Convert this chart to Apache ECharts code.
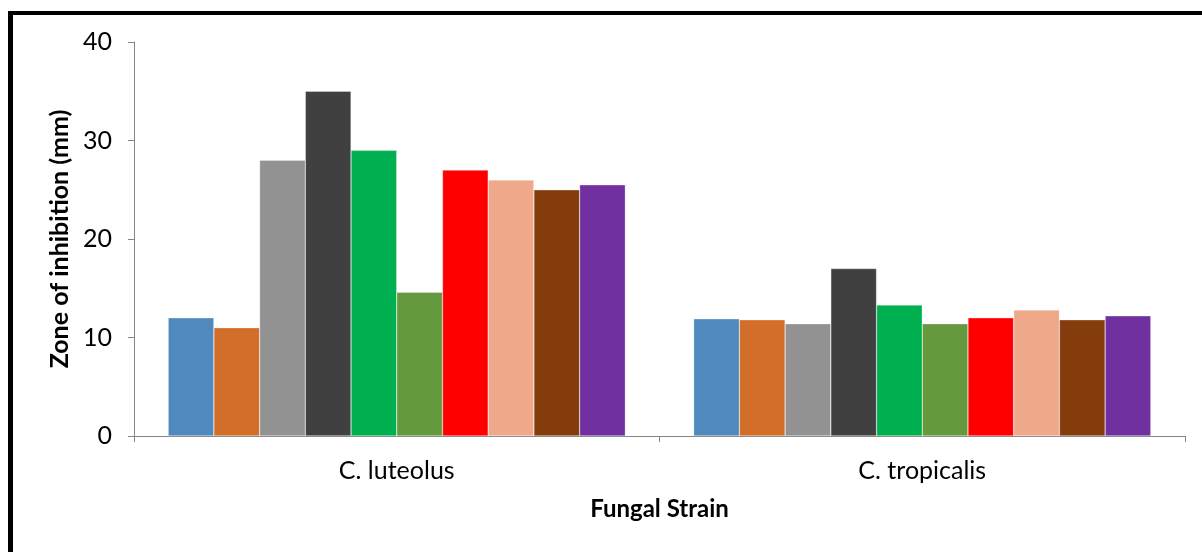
<!DOCTYPE html>
<html>
<head>
<meta charset="utf-8">
<script src="https://cdn.jsdelivr.net/npm/echarts@6/dist/echarts.min.js"></script>
<style>
  html, body { margin: 0; padding: 0; background: #fff; }
  #chart { width: 1202px; height: 552px; }
</style>
</head>
<body>
<div id="chart"></div>
<script>
// Fungal strains on the category axis
const strains = ['C. luteolus', 'C. tropicalis'];

// Zone of inhibition (mm) per treatment, one array per bar colour
const treatment1 = [12.0, 11.9];
const treatment2 = [11.0, 11.8];
const treatment3 = [28.0, 11.4];
const treatment4 = [35.0, 17.0];
const treatment5 = [29.0, 13.3];
const treatment6 = [14.6, 11.4];
const treatment7 = [27.0, 12.0];
const treatment8 = [26.0, 12.8];
const treatment9 = [25.0, 11.8];
const treatment10 = [25.5, 12.2];

const yTicks = [0, 10, 20, 30, 40];

const seriesData = [treatment1, treatment2, treatment3, treatment4, treatment5,
  treatment6, treatment7, treatment8, treatment9, treatment10];
const colors = ['#4F89BD', '#D26D2A', '#929292', '#404040', '#00B050',
  '#64993E', '#FF0000', '#F0A88A', '#843C0C', '#7030A0'];

const FONT = 'Lato, "Open Sans", sans-serif';

const chart = echarts.init(document.getElementById('chart'), null, { renderer: 'canvas' });

chart.setOption({
  animation: false,
  backgroundColor: '#fff',
  graphic: [
    // black frame along the top and left edges
    { type: 'rect', shape: { x: 8, y: 11, width: 1300, height: 4 }, style: { fill: '#000' } },
    { type: 'rect', shape: { x: 8, y: 11, width: 5, height: 600 }, style: { fill: '#000' } }
  ],
  grid: { left: 134, right: 17, top: 42, bottom: 116, containLabel: false },
  xAxis: {
    type: 'category',
    data: strains,
    name: 'Fungal Strain',
    nameLocation: 'middle',
    nameGap: 61,
    nameTextStyle: { fontFamily: FONT, fontSize: 24, fontWeight: 'bold', color: '#000' },
    axisLine: { lineStyle: { color: '#868686', width: 1 } },
    axisTick: { show: true, length: 6, lineStyle: { color: '#868686' } },
    axisLabel: { fontFamily: FONT, fontSize: 25, color: '#000', margin: 22 }
  },
  yAxis: {
    type: 'value',
    min: yTicks[0],
    max: yTicks[yTicks.length - 1],
    interval: 10,
    name: 'Zone of inhibition (mm)',
    nameLocation: 'middle',
    nameGap: 61,
    nameTextStyle: { fontFamily: FONT, fontSize: 25, fontWeight: 'bold', color: '#000' },
    splitLine: { show: false },
    axisLine: { show: true, lineStyle: { color: '#868686', width: 1 } },
    axisTick: { show: true, length: 6, lineStyle: { color: '#868686' } },
    axisLabel: { fontFamily: FONT, fontSize: 25, color: '#000', margin: 22 }
  },
  series: seriesData.map((d, i) => ({
    type: 'bar',
    name: 'Treatment ' + (i + 1),
    data: d,
    barGap: '0%',
    barCategoryGap: '13%',
    itemStyle: { color: colors[i], borderColor: 'rgba(255,255,255,0.6)', borderWidth: 0.5 }
  }))
});
</script>
</body>
</html>
